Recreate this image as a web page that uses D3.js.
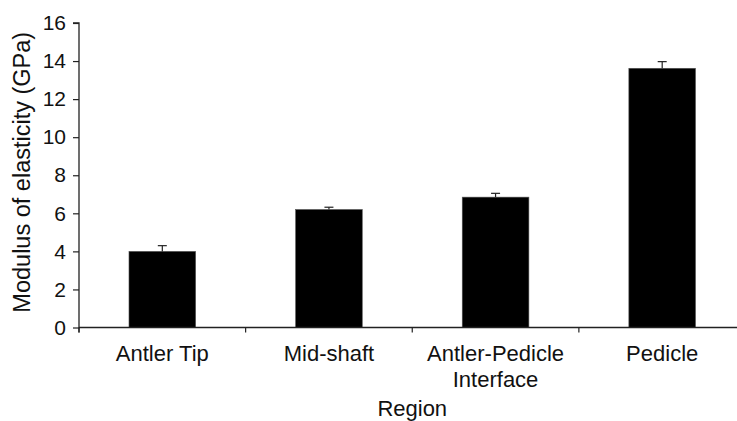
<!DOCTYPE html>
<html>
<head>
<meta charset="utf-8">
<script src="https://cdn.jsdelivr.net/npm/d3@7"></script>
<style>
  body { margin: 0; background: #fff; }
  text { font-family: "Liberation Sans", Arial, sans-serif; fill: #111; }
</style>
</head>
<body>
<div id="chart"></div>
<script>
var width = 737;
var height = 421;

// data
var regions = ["Antler Tip", "Mid-shaft", "Antler-Pedicle|Interface", "Pedicle"];
var modulus = [4.0, 6.2, 6.85, 13.62];
var errUp = [0.3, 0.12, 0.2, 0.35];
var yTicks = [0, 2, 4, 6, 8, 10, 12, 14, 16];

var svg = d3.select("#chart").append("svg")
  .attr("width", width)
  .attr("height", height);

var x0 = 79, x1 = 745.5;

var x = d3.scaleBand()
  .domain(regions)
  .range([x0, x1])
  .paddingInner(0.6)
  .paddingOuter(0.3);

var y = d3.scaleLinear()
  .domain([0, 16])
  .range([327.5, 23]);

// bars
svg.selectAll("rect.bar")
  .data(regions)
  .enter().append("rect")
  .attr("class", "bar")
  .attr("x", function(d) { return x(d); })
  .attr("width", x.bandwidth())
  .attr("y", function(d, i) { return y(modulus[i]); })
  .attr("height", function(d, i) { return y(0) - y(modulus[i]); })
  .attr("fill", "#000")
  .attr("stroke", "#555")
  .attr("stroke-width", 0.6);

// error bars (upper only)
var eb = svg.selectAll("g.err")
  .data(regions)
  .enter().append("g")
  .attr("class", "err");
eb.append("line")
  .attr("x1", function(d) { return x(d) + x.bandwidth() / 2; })
  .attr("x2", function(d) { return x(d) + x.bandwidth() / 2; })
  .attr("y1", function(d, i) { return y(modulus[i]); })
  .attr("y2", function(d, i) { return y(modulus[i] + errUp[i]); })
  .attr("stroke", "#222").attr("stroke-width", 1.2);
eb.append("line")
  .attr("x1", function(d) { return x(d) + x.bandwidth() / 2 - 4.5; })
  .attr("x2", function(d) { return x(d) + x.bandwidth() / 2 + 4.5; })
  .attr("y1", function(d, i) { return y(modulus[i] + errUp[i]); })
  .attr("y2", function(d, i) { return y(modulus[i] + errUp[i]); })
  .attr("stroke", "#222").attr("stroke-width", 1.2);

// y axis
var yAxis = d3.axisLeft(y).tickValues(yTicks).tickSize(6).tickPadding(7);
var gy = svg.append("g")
  .attr("transform", "translate(" + x0 + ",0)")
  .call(yAxis);
gy.select(".domain").attr("stroke", "#222").attr("stroke-width", 1.3)
  .attr("d", "M-6," + y(16) + "H0V" + (y(0) + 5));
gy.selectAll(".tick line").attr("stroke", "#222").attr("stroke-width", 1.2);
gy.selectAll(".tick text")
  .style("font-size", "21px")
  .style("fill", "#111");

// x axis line and boundary ticks
svg.append("line")
  .attr("x1", x0).attr("x2", width + 10)
  .attr("y1", y(0)).attr("y2", y(0))
  .attr("stroke", "#222").attr("stroke-width", 1.3);

var bounds = d3.range(regions.length + 1).map(function(i) { return x0 + i * x.step(); });
svg.selectAll("line.xt")
  .data(bounds)
  .enter().append("line")
  .attr("class", "xt")
  .attr("x1", function(d) { return d; }).attr("x2", function(d) { return d; })
  .attr("y1", y(0)).attr("y2", y(0) + 5)
  .attr("stroke", "#222").attr("stroke-width", 1.2);

// category labels
var labels = svg.selectAll("text.cat")
  .data(regions)
  .enter().append("text")
  .attr("class", "cat")
  .attr("text-anchor", "middle")
  .style("font-size", "22px");
labels.each(function(d) {
  var lines = d.split("|");
  var cx = x(d) + x.bandwidth() / 2;
  var t = d3.select(this);
  lines.forEach(function(l, k) {
    t.append("tspan")
      .attr("x", cx)
      .attr("y", 361 + k * 26)
      .text(l);
  });
});

// axis titles
svg.append("text")
  .attr("x", (x0 + x1) / 2)
  .attr("y", 416)
  .attr("text-anchor", "middle")
  .style("font-size", "22px")
  .text("Region");

svg.append("text")
  .attr("transform", "translate(30," + ((y(0) + y(16)) / 2 - 3) + ") rotate(-90)")
  .attr("text-anchor", "middle")
  .style("font-size", "23.5px")
  .text("Modulus of elasticity (GPa)");
</script>
</body>
</html>
